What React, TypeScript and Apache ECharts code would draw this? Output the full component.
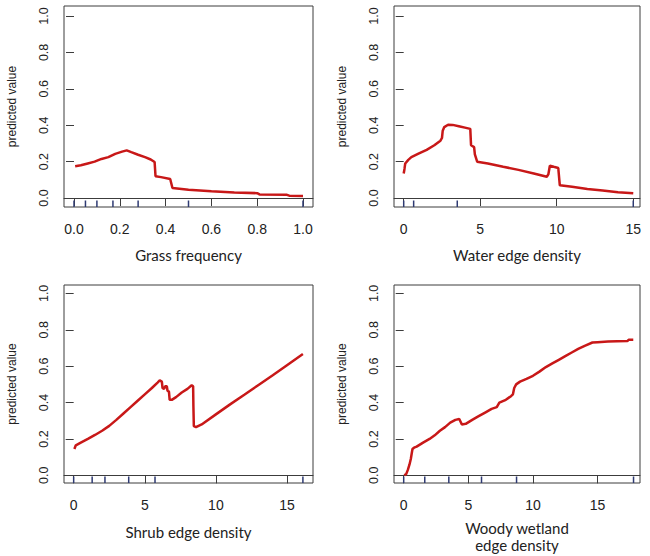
import React, { useEffect, useRef } from "react";
import * as echarts from "echarts";

// ---- data ----
const grassX = [0.005, 0.03, 0.06, 0.09, 0.12, 0.15, 0.18, 0.21, 0.23, 0.25, 0.28, 0.31, 0.335, 0.352, 0.356, 0.38, 0.42, 0.43, 0.47, 0.5, 0.55, 0.6, 0.7, 0.8, 0.81, 0.93, 0.94, 1.0];
const grassY = [0.175, 0.18, 0.19, 0.2, 0.215, 0.225, 0.243, 0.255, 0.262, 0.252, 0.238, 0.225, 0.212, 0.198, 0.12, 0.115, 0.105, 0.055, 0.05, 0.046, 0.042, 0.037, 0.031, 0.027, 0.02, 0.018, 0.013, 0.012];
const grassRug = [0, 0.05, 0.1, 0.17, 0.28, 0.5, 1.0];

const waterX = [0, 0.05, 0.1, 0.3, 0.5, 1, 1.5, 2, 2.4, 2.5, 2.55, 2.65, 2.9, 3.2, 3.6, 4.0, 4.35, 4.4, 4.6, 4.65, 4.8, 5.5, 6.5, 7.5, 8.5, 9.35, 9.45, 9.55, 9.8, 10.1, 10.2, 11, 12, 13, 14, 15];
const waterY = [0.135, 0.16, 0.19, 0.21, 0.225, 0.245, 0.265, 0.29, 0.315, 0.33, 0.37, 0.39, 0.403, 0.402, 0.395, 0.387, 0.38, 0.29, 0.28, 0.24, 0.2, 0.19, 0.172, 0.155, 0.135, 0.117, 0.13, 0.178, 0.172, 0.165, 0.07, 0.062, 0.05, 0.042, 0.032, 0.026];
const waterRug = [0, 0.65, 3.5, 15];

const shrubX = [0.05, 0.15, 0.5, 1, 1.5, 2, 2.5, 3, 3.5, 4, 4.5, 5, 5.5, 5.9, 6.05, 6.2, 6.25, 6.35, 6.45, 6.55, 6.6, 6.7, 6.75, 6.9, 7.2, 7.6, 8.0, 8.3, 8.4, 8.42, 8.45, 8.6, 9, 10, 11, 12, 13, 14, 15, 16.12];
const shrubY = [0.145, 0.165, 0.18, 0.2, 0.222, 0.245, 0.272, 0.305, 0.34, 0.375, 0.41, 0.445, 0.48, 0.51, 0.522, 0.515, 0.48, 0.475, 0.49, 0.49, 0.465, 0.46, 0.415, 0.415, 0.43, 0.455, 0.475, 0.495, 0.49, 0.38, 0.27, 0.265, 0.28, 0.335, 0.39, 0.443, 0.497, 0.55, 0.605, 0.667];
const shrubRug = [0, 1.3, 2.2, 3.87, 5.72, 16.12];

const woodyX = [0.05, 0.2, 0.32, 0.45, 0.55, 0.62, 0.68, 0.8, 1, 1.5, 2, 2.4, 2.8, 3.2, 3.6, 4.0, 4.3, 4.4, 4.5, 4.8, 5.3, 5.8, 6.3, 6.8, 7.2, 7.4, 7.9, 8.3, 8.45, 8.55, 8.7, 9, 9.5, 10, 10.5, 11, 11.5, 12, 12.5, 13, 13.5, 14, 14.6, 15, 15.8, 16.5, 17.3, 17.4, 17.76];
const woodyY = [0, 0.008, 0.03, 0.06, 0.09, 0.12, 0.145, 0.152, 0.158, 0.18, 0.2, 0.22, 0.245, 0.265, 0.29, 0.305, 0.31, 0.295, 0.28, 0.283, 0.305, 0.325, 0.345, 0.365, 0.375, 0.4, 0.415, 0.435, 0.445, 0.48, 0.5, 0.515, 0.53, 0.547, 0.57, 0.595, 0.615, 0.635, 0.655, 0.675, 0.695, 0.712, 0.73, 0.732, 0.735, 0.737, 0.738, 0.745, 0.745];
const woodyRug = [0, 1.63, 3.49, 6.02, 8.73, 17.78];

const yTicks = [0, 0.2, 0.4, 0.6, 0.8, 1.0];
const grassTicks = [0, 0.2, 0.4, 0.6, 0.8, 1.0];
const edgeTicks = [0, 5, 10, 15];
const xTitles = ["Grass frequency", "Water edge density", "Shrub edge density", "Woody wetland\nedge density"];
const yTitle = "predicted value";

export default function App() {
  const ref = useRef<HTMLDivElement>(null);
  useEffect(() => {
    if (!ref.current) return;
    const chart = echarts.init(ref.current, null, { renderer: "svg" });
    const panels = [
      { xs: grassX, ys: grassY, rug: grassRug, ticks: grassTicks, dec: 1, xmin: -0.0437, xmax: 1.0437, left: 64, top: 6, width: 249, height: 201, ymin: -0.049, ymax: 1.055, gap: 39 },
      { xs: waterX, ys: waterY, rug: waterRug, ticks: edgeTicks, dec: 0, xmin: -0.634, xmax: 15.44, left: 394, top: 6, width: 246, height: 201, ymin: -0.049, ymax: 1.055, gap: 39 },
      { xs: shrubX, ys: shrubY, rug: shrubRug, ticks: edgeTicks, dec: 0, xmin: -0.68, xmax: 16.83, left: 64, top: 285, width: 249, height: 198, ymin: -0.042, ymax: 1.046, gap: 40 },
      { xs: woodyX, ys: woodyY, rug: woodyRug, ticks: edgeTicks, dec: 0, xmin: -0.75, xmax: 18.28, left: 394, top: 285, width: 246, height: 198, ymin: -0.042, ymax: 1.046, gap: 36 },
    ];
    const axisCol = "#3c3c3c";
    const textCol = "#222";
    const grid: any[] = [];
    const xAxis: any[] = [];
    const yAxis: any[] = [];
    const series: any[] = [];
    panels.forEach((p, i) => {
      grid.push({
        left: p.left, top: p.top, width: p.width, height: p.height,
        show: true, borderColor: axisCol, borderWidth: 1, backgroundColor: "transparent",
        outerBoundsMode: "none",
      });
      xAxis.push({
        type: "value", gridIndex: i, min: p.xmin, max: p.xmax,
        splitLine: { show: false },
        axisLine: { show: true, lineStyle: { color: axisCol, width: 1 } },
        axisTick: { show: true, length: 8, inside: false, customValues: p.ticks, lineStyle: { color: axisCol, width: 1 } },
        axisLabel: {
          show: true, customValues: p.ticks, margin: 15,
          fontFamily: "Liberation Sans", fontSize: 14, color: textCol,
          formatter: (v: number) => v.toFixed(p.dec),
        },
        name: xTitles[i], nameLocation: "middle", nameGap: p.gap,
        nameTextStyle: { fontFamily: "Lato", fontSize: 15, color: textCol, lineHeight: 17 },
      });
      yAxis.push({
        type: "value", gridIndex: i, min: p.ymin, max: p.ymax,
        splitLine: { show: false },
        axisLine: { show: false },
        axisTick: { show: true, length: 8, customValues: yTicks, lineStyle: { color: axisCol, width: 1 } },
        axisLabel: {
          show: true, customValues: yTicks, rotate: 90, margin: 14,
          fontFamily: "Liberation Sans", fontSize: 12.5, color: textCol,
          formatter: (v: number) => v.toFixed(1),
        },
        name: yTitle, nameLocation: "middle", nameGap: 46,
        nameTextStyle: { fontFamily: "Liberation Sans", fontSize: 12, color: textCol },
      });
      series.push({
        type: "line", xAxisIndex: i, yAxisIndex: i,
        data: p.xs.map((x, k) => [x, p.ys[k]]),
        showSymbol: false, symbol: "none",
        lineStyle: { color: "#c81818", width: 2.5 },
        z: 3,
      });
      series.push({
        type: "custom", xAxisIndex: i, yAxisIndex: i,
        data: p.rug.map((x) => [x, p.ymin]),
        renderItem: (params: any, api: any) => {
          const c = api.coord([api.value(0), api.value(1)]);
          return {
            type: "line",
            shape: { x1: c[0], y1: c[1], x2: c[0], y2: c[1] - 6.5 },
            style: { stroke: "#2e3a72", lineWidth: 1.5 },
          };
        },
        z: 4,
      });
    });
    chart.setOption({ animation: false, backgroundColor: "#fff", grid, xAxis, yAxis, series });
    return () => chart.dispose();
  }, []);
  return <div ref={ref} style={{ position: "fixed", left: 0, top: 0, width: 650, height: 556 }} />;
}
